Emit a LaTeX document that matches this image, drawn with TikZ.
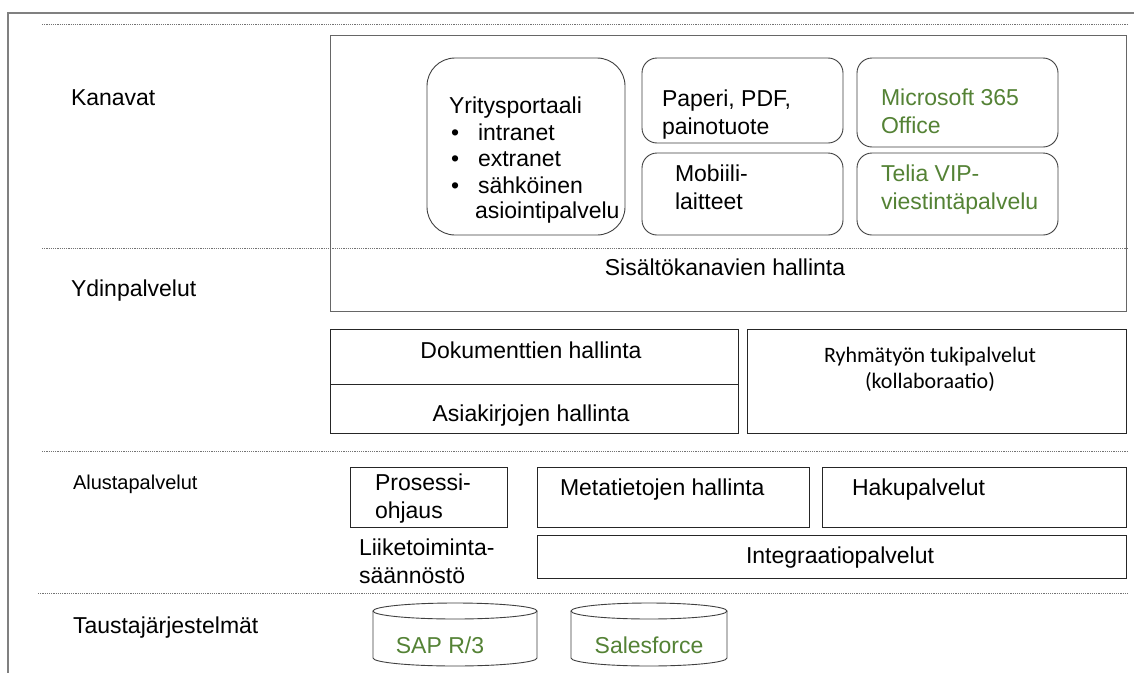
\documentclass[tikz,border=0pt]{standalone}
\usepackage{fontspec}
\setmainfont{Liberation Sans}
\newfontfamily\calibrifont{Carlito}
\usetikzlibrary{fit}
\definecolor{grn}{RGB}{84,130,53}
\definecolor{framegray}{RGB}{128,128,128}
\begin{document}
\begin{tikzpicture}[x=1pt,y=-1pt,
  txt/.style={inner sep=0pt, outer sep=0pt, font=\fontsize{23}{26}\selectfont, anchor=base west},
  ctxt/.style={txt, anchor=base},
  smalltxt/.style={txt, font=\fontsize{20}{24}\selectfont},
  caltxt/.style={inner sep=0pt, outer sep=0pt, font=\calibrifont\fontsize{22}{26}\selectfont, anchor=base},
  gtxt/.style={txt, text=grn},
  rbox/.style={draw=black!75, line width=0.9pt, rounded corners=15pt, inner sep=0pt},
  sbox/.style={draw=black!85, line width=0.9pt, inner sep=0pt},
  bigbox/.style={draw=black!60, line width=1pt, inner sep=0pt},
  dotl/.style={draw=black!55, line width=0.8pt, dash pattern=on 1.2pt off 1pt},
  cylline/.style={draw=black!75, line width=0.9pt}
]
\useasboundingbox[fill=white] (0,0) rectangle (1134,672);

% outer frame
\coordinate (fbl) at (8,690);
\coordinate (ftl) at (8,13);
\coordinate (ftr) at (1150,13);
\draw[framegray, line width=1.3pt] (fbl) -- (ftl) -- (ftr);

% dotted layer separators
\coordinate (d1a) at (42,24);  \coordinate (d1b) at (1128,24);
\coordinate (d2a) at (42,248); \coordinate (d2b) at (1128,248);
\coordinate (d3a) at (42,451); \coordinate (d3b) at (1128,451);
\coordinate (d4a) at (38,593); \coordinate (d4b) at (1128,593);
\draw[dotl] (d1a) -- (d1b);
\draw[dotl] (d2a) -- (d2b);
\draw[dotl] (d3a) -- (d3b);
\draw[dotl] (d4a) -- (d4b);

% layer labels
\node[txt] (kanavat) at (71,105) {Kanavat};
\node[txt] (ydin) at (71,296) {Ydinpalvelut};
\node[smalltxt] (alusta) at (73,489) {Alustapalvelut};
\node[txt] (tausta) at (73,633) {Taustajärjestelmät};

% channels big box
\node[bigbox, fit={(330,35) (1126,311)}] (big) {};
\node[rbox, rounded corners=28pt, fit={(427,58) (625,235)}] (yritys) {};
\node[rbox, fit={(642,58) (843,143)}] (paperi) {};
\node[rbox, fit={(642,153) (843,235)}] (mobiili) {};
\node[rbox, fit={(857,58) (1058,147)}] (ms) {};
\node[rbox, fit={(857,153) (1058,235)}] (telia) {};

\node[txt] (y1) at (449,113) {Yritysportaali};
\node[txt] (yb1) at (451,140) {•};
\node[txt] (yb2) at (451,166) {•};
\node[txt] (yb3) at (451,193) {•};
\node[txt] (y2) at (478,140) {intranet};
\node[txt] (y3) at (478,166) {extranet};
\node[txt] (y4) at (478,193) {sähköinen};
\node[txt] (y5) at (475,218) {asiointipalvelu};

\node[txt] (p1) at (662,106) {Paperi, PDF,};
\node[txt] (p2) at (662,134) {painotuote};
\node[txt] (m1) at (675,181) {Mobiili-};
\node[txt] (m2) at (675,209) {laitteet};
\node[gtxt] (ms1) at (881,105) {Microsoft 365};
\node[gtxt] (ms2) at (881,133) {Office};
\node[gtxt] (t1) at (881,181) {Telia VIP-};
\node[gtxt] (t2) at (881,209) {viestintäpalvelu};

\node[ctxt] (sisalto) at (725,275) {Sisältökanavien hallinta};

% core services
\node[sbox, fit={(330,329) (738,384)}] (doku) {};
\node[sbox, fit={(330,384) (738,433)}] (asia) {};
\node[sbox, fit={(747,329) (1126,433)}] (ryhma) {};
\node[ctxt] (dokut) at (531,358) {Dokumenttien hallinta};
\node[ctxt] (asiat) at (531,421) {Asiakirjojen hallinta};
\node[caltxt] (r1) at (930,362) {Ryhmätyön tukipalvelut};
\node[caltxt] (r2) at (930,388) {(kollaboraatio)};

% platform services
\node[sbox, fit={(350,467) (507,527)}] (prosessi) {};
\node[sbox, fit={(537,467) (809,527)}] (meta) {};
\node[sbox, fit={(822,467) (1126,527)}] (haku) {};
\node[sbox, fit={(537,535) (1126,578)}] (integ) {};
\node[txt] (pr1) at (375,490) {Prosessi-};
\node[txt] (pr2) at (375,518) {ohjaus};
\node[txt] (li1) at (359,555) {Liiketoiminta-};
\node[txt] (li2) at (359,583) {säännöstö};
\node[txt] (metat) at (560,495) {Metatietojen hallinta};
\node[txt] (hakut) at (852,495) {Hakupalvelut};
\node[ctxt] (integt) at (840,563) {Integraatiopalvelut};

% background systems (cylinders)
\draw[cylline] (455,611) ellipse[x radius=82pt, y radius=8pt];
\draw[cylline] (373,611) -- (373,658) arc[start angle=180, end angle=360, x radius=82pt, y radius=8pt] -- (537,611);
\draw[cylline] (649,611) ellipse[x radius=78pt, y radius=8pt];
\draw[cylline] (571,611) -- (571,658) arc[start angle=180, end angle=360, x radius=78pt, y radius=8pt] -- (727,611);
\node[ctxt, text=grn] (sap) at (440,653) {SAP R/3};
\node[ctxt, text=grn] (sf) at (649,653) {Salesforce};
\end{tikzpicture}
\end{document}
